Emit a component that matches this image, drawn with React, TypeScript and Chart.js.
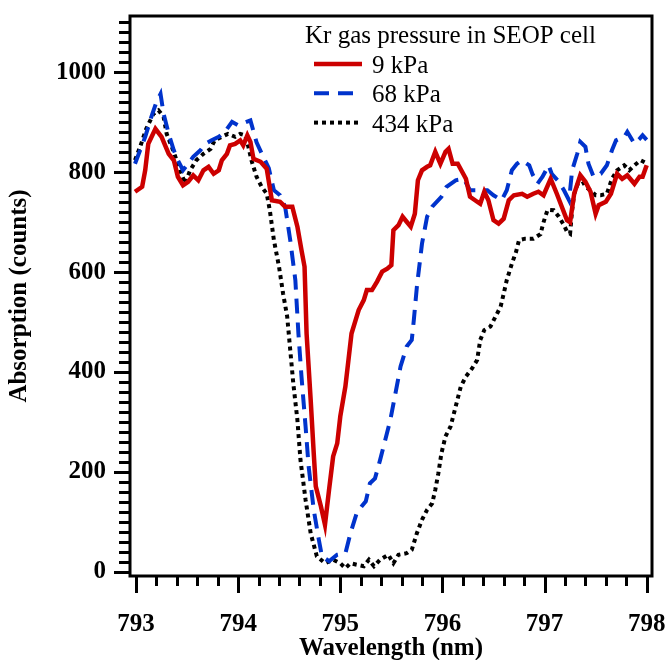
import React, { useEffect, useRef } from "react";
import { Chart, registerables } from "chart.js";

Chart.register(...registerables);

// ---- data ----
const wl9 = [
  792.99, 793.06, 793.09, 793.12, 793.19, 793.25, 793.32, 793.37, 793.41, 793.46,
  793.51, 793.56, 793.61, 793.66, 793.71, 793.76, 793.81, 793.84, 793.89, 793.92,
  793.97, 794.02, 794.05, 794.09, 794.12, 794.15, 794.22, 794.28, 794.33, 794.41,
  794.46, 794.53, 794.58, 794.62, 794.65, 794.67, 794.71, 794.74, 794.76, 794.81,
  794.85, 794.89, 794.93, 794.97, 795.0, 795.05, 795.08, 795.11, 795.15, 795.18,
  795.23, 795.26, 795.31, 795.36, 795.41, 795.46, 795.5, 795.52, 795.57, 795.61,
  795.65, 795.69, 795.73, 795.76, 795.8, 795.85, 795.88, 795.93, 795.98, 796.03,
  796.06, 796.1, 796.15, 796.23, 796.27, 796.34, 796.37, 796.41, 796.45, 796.5,
  796.55, 796.6, 796.65, 796.7, 796.78, 796.83, 796.89, 796.94, 796.99, 797.06,
  797.12, 797.22, 797.25, 797.29, 797.35, 797.4, 797.45, 797.5, 797.53, 797.6,
  797.65, 797.71, 797.76, 797.81, 797.88, 797.93, 797.96, 798.0,
];
const abs9 = [
  761, 771, 804, 857, 887, 871, 837, 824, 791, 774,
  781, 794, 784, 804, 811, 797, 804, 824, 837, 854,
  857, 864, 854, 874, 861, 827, 821, 807, 744, 741,
  731, 731, 691, 644, 611, 477, 344, 237, 171, 131,
  94, 164, 231, 257, 311, 371, 424, 477, 504, 524,
  544, 564, 564, 581, 601, 607, 614, 684, 694, 711,
  701, 691, 717, 784, 804, 811, 814, 841, 817, 841,
  847, 817, 817, 787, 751, 741, 737, 761, 744, 704,
  697, 707, 744, 754, 757, 751, 757, 761, 754, 787,
  757, 704, 700, 757, 794, 781, 761, 717, 734, 741,
  757, 797, 787, 794, 777, 791, 791, 814,
];

const wl68 = [
  792.99, 793.04, 793.09, 793.15, 793.2, 793.24, 793.27, 793.32, 793.37, 793.41,
  793.46, 793.51, 793.56, 793.63, 793.68, 793.74, 793.81, 793.87, 793.94, 794.0,
  794.07, 794.12, 794.18, 794.23, 794.3, 794.35, 794.41, 794.46, 794.51, 794.56,
  794.59, 794.62, 794.66, 794.69, 794.74, 794.79, 794.82, 794.89, 794.97, 795.05,
  795.1, 795.16, 795.21, 795.25, 795.29, 795.34, 795.39, 795.44, 795.49, 795.54,
  795.59, 795.65, 795.7, 795.72, 795.75, 795.8, 795.85, 795.9, 795.99, 796.04,
  796.13, 796.21, 796.27, 796.37, 796.44, 796.5, 796.58, 796.63, 796.68, 796.73,
  796.78, 796.85, 796.88, 796.93, 796.98, 797.04, 797.07, 797.14, 797.19, 797.24,
  797.27, 797.32, 797.35, 797.4, 797.43, 797.48, 797.55, 797.61, 797.66, 797.7,
  797.78, 797.81, 797.88, 797.93, 797.96, 798.0,
];
const abs68 = [
  817, 844, 871, 911, 941, 957, 917, 877, 844, 824,
  804, 817, 831, 844, 857, 864, 871, 881, 901, 894,
  900, 904, 860, 838, 808, 764, 754, 731, 664, 584,
  477, 391, 291, 211, 124, 64, 31, 21, 34, 37,
  77, 117, 131, 141, 177, 187, 224, 264, 304, 357,
  411, 451, 464, 504, 571, 657, 711, 731, 751, 771,
  784, 787, 764, 764, 764, 754, 744, 764, 804, 817,
  824, 814, 797, 777, 791, 814, 797, 781, 764, 744,
  804, 837, 861, 851, 817, 791, 797, 814, 844, 864,
  871, 881, 857, 867, 874, 865,
];

const wl434 = [
  792.99, 793.04, 793.1, 793.17, 793.22, 793.27, 793.3, 793.35, 793.41, 793.48,
  793.53, 793.59, 793.66, 793.73, 793.77, 793.84, 793.9, 793.97, 794.02, 794.07,
  794.1, 794.13, 794.18, 794.23, 794.28, 794.31, 794.35, 794.4, 794.44, 794.48,
  794.51, 794.54, 794.58, 794.61, 794.66, 794.71, 794.77, 794.85, 794.93, 795.0,
  795.05, 795.1, 795.16, 795.23, 795.28, 795.33, 795.39, 795.47, 795.52, 795.57,
  795.65, 795.7, 795.75, 795.8, 795.85, 795.9, 795.93, 795.96, 795.99, 796.03,
  796.08, 796.13, 796.18, 796.23, 796.29, 796.34, 796.37, 796.41, 796.47, 796.52,
  796.57, 796.6, 796.63, 796.68, 796.72, 796.75, 796.81, 796.89, 796.96, 796.99,
  797.03, 797.09, 797.14, 797.19, 797.22, 797.25, 797.27, 797.29, 797.35, 797.4,
  797.45, 797.5, 797.55, 797.61, 797.66, 797.71, 797.78, 797.83, 797.88, 797.94,
  797.99,
];
const abs434 = [
  824, 851, 887, 917, 924, 911, 877, 851, 817, 777,
  804, 824, 837, 847, 864, 871, 877, 871, 877, 874,
  851, 824, 791, 771, 757, 724, 664, 611, 557, 511,
  444, 377, 304, 224, 144, 77, 31, 17, 24, 17,
  7, 17, 14, 11, 24, 11, 24, 34, 17, 34,
  37, 44, 77, 104, 124, 137, 164, 197, 237, 271,
  291, 331, 371, 391, 407, 424, 464, 484, 491, 511,
  531, 557, 584, 617, 640, 664, 667, 667, 676, 700,
  725, 724, 711, 694, 681, 677, 724, 757, 791, 771,
  764, 754, 754, 757, 787, 804, 814, 804, 814, 824,
  819,
];

const seriesLabels = ["9 kPa", "68 kPa", "434 kPa"];
const legendTitle = "Kr gas pressure in SEOP cell";
const xTickValues = [793, 794, 795, 796, 797, 798];
const yTickValues = [0, 200, 400, 600, 800, 1000];
const xAxisLabel = "Wavelength (nm)";
const yAxisLabel = "Absorption (counts)";

const SERIF = "'Liberation Serif', 'Times New Roman', Times, serif";

const toPoints = (xs: number[], ys: number[]) =>
  xs.map((x, i) => ({ x, y: ys[i] }));

// frame + major/minor tick marks drawn against the library's scales
const frameTicksPlugin = {
  id: "frameTicks",
  afterDraw(chart: any) {
    const { ctx, chartArea: a, scales } = chart;
    const xs = scales.x;
    const ys = scales.y;
    ctx.save();
    ctx.strokeStyle = "#000";
    ctx.lineWidth = 3;
    ctx.lineCap = "butt";
    ctx.strokeRect(a.left, a.top, a.right - a.left, a.bottom - a.top);
    ctx.beginPath();
    for (let i = 0; i <= 25; i++) {
      const v = 793 + i * 0.2;
      const major = i % 5 === 0;
      const px = Math.round(xs.getPixelForValue(v)) + 0.5;
      ctx.moveTo(px, a.bottom);
      ctx.lineTo(px, a.bottom + (major ? 17 : 10));
    }
    for (let i = 0; i <= 55; i++) {
      const v = i * 20;
      const major = i % 10 === 0;
      const py = Math.round(ys.getPixelForValue(v)) + 0.5;
      ctx.moveTo(a.left, py);
      ctx.lineTo(a.left - (major ? 16 : 11), py);
    }
    ctx.stroke();
    ctx.restore();
  },
};

const legendPlugin = {
  id: "customLegend",
  afterDraw(chart: any) {
    const ctx = chart.ctx;
    ctx.save();
    ctx.font = `25px ${SERIF}`;
    ctx.fillStyle = "#000";
    ctx.textAlign = "left";
    ctx.textBaseline = "alphabetic";
    ctx.fillText(legendTitle, 305, 43);
    chart.data.datasets.forEach((ds: any, i: number) => {
      const base = 73 + i * 29.3;
      const ly = base - 9;
      ctx.beginPath();
      ctx.strokeStyle = ds.borderColor;
      ctx.lineWidth = ds.borderWidth;
      ctx.setLineDash(ds.borderDash || []);
      ctx.moveTo(314, ly);
      ctx.lineTo(362, ly);
      ctx.stroke();
      ctx.setLineDash([]);
      ctx.fillText(ds.label, 372, base);
    });
    ctx.restore();
  },
};

export default function App() {
  const canvasRef = useRef<HTMLCanvasElement | null>(null);

  useEffect(() => {
    if (!canvasRef.current) return;
    const tickFont = { family: SERIF, size: 25, weight: "bold" as const, lineHeight: 1.2 };
    const titleFont = { family: SERIF, size: 25, weight: "bold" as const, lineHeight: 1.0 };
    const chart = new Chart(canvasRef.current, {
      type: "line",
      data: {
        datasets: [
          {
            label: seriesLabels[0],
            data: toPoints(wl9, abs9),
            borderColor: "#cc0000",
            borderWidth: 4.5,
            pointRadius: 0,
            fill: false,
          },
          {
            label: seriesLabels[1],
            data: toPoints(wl68, abs68),
            borderColor: "#0033cc",
            borderWidth: 4,
            borderDash: [15, 9],
            pointRadius: 0,
            fill: false,
          },
          {
            label: seriesLabels[2],
            data: toPoints(wl434, abs434),
            borderColor: "#000000",
            borderWidth: 4,
            borderDash: [4, 4],
            pointRadius: 0,
            fill: false,
          },
        ],
      },
      options: {
        animation: false,
        responsive: false,
        maintainAspectRatio: false,
        layout: { padding: { top: 16, right: 15, left: 0, bottom: 0 } },
        plugins: {
          legend: { display: false },
          tooltip: { enabled: false },
        },
        elements: { line: { tension: 0 }, point: { radius: 0 } },
        scales: {
          x: {
            type: "linear",
            min: 792.941,
            max: 798.052,
            grid: { display: false, drawTicks: false },
            border: { display: false },
            afterBuildTicks: (s: any) => {
              s.ticks = xTickValues.map((value) => ({ value }));
            },
            afterFit: (s: any) => {
              s.height = 84;
              s.paddingLeft = 0;
              s.paddingRight = 0;
            },
            ticks: {
              color: "#000",
              font: tickFont,
              padding: 34,
              autoSkip: false,
              maxRotation: 0,
              callback: (v: any) => String(v),
            },
            title: {
              display: true,
              text: xAxisLabel,
              color: "#000",
              font: titleFont,
              padding: { top: 0, bottom: -1 },
            },
          },
          y: {
            type: "linear",
            min: -8.6,
            max: 1113,
            grid: { display: false, drawTicks: false },
            border: { display: false },
            afterBuildTicks: (s: any) => {
              s.ticks = yTickValues.map((value) => ({ value }));
            },
            afterFit: (s: any) => {
              s.width = 130;
              s.paddingTop = 0;
              s.paddingBottom = 0;
            },
            ticks: {
              color: "#000",
              font: tickFont,
              padding: 24,
              autoSkip: false,
              callback: (v: any) => String(v),
            },
            title: {
              display: true,
              text: yAxisLabel,
              color: "#000",
              font: { family: SERIF, size: 25, weight: "bold" as const, lineHeight: 1.2 },
              padding: { top: 5, bottom: 0 },
            },
          },
        },
      },
      plugins: [frameTicksPlugin, legendPlugin],
    });
    return () => chart.destroy();
  }, []);

  return (
    <div style={{ position: "absolute", left: 0, top: 0, width: 667, height: 660, background: "#fff" }}>
      <canvas ref={canvasRef} width={667} height={660} style={{ display: "block" }} />
    </div>
  );
}
